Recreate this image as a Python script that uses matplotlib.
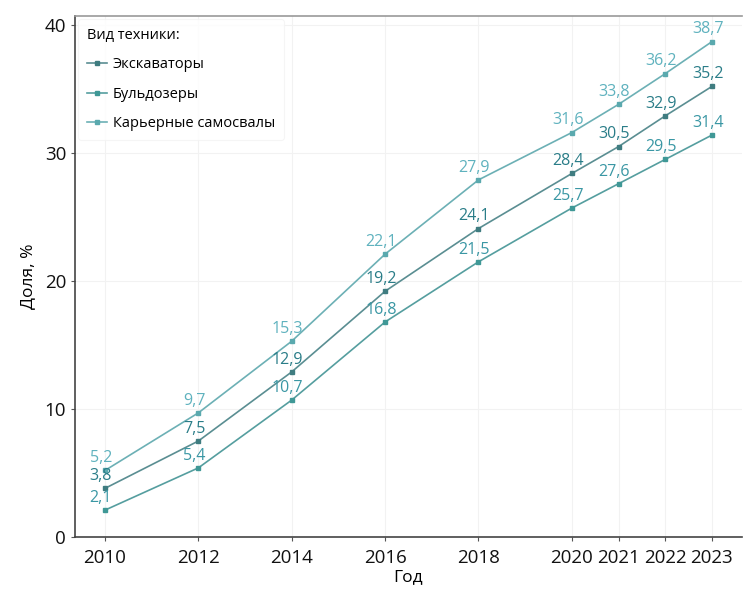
import matplotlib.pyplot as plt
from matplotlib import font_manager

plt.rcParams['font.family'] = ['Open Sans', 'DejaVu Sans']

years = [2010, 2012, 2014, 2016, 2018, 2020, 2021, 2022, 2023]
excavators = [3.8, 7.5, 12.9, 19.2, 24.1, 28.4, 30.5, 32.9, 35.2]
bulldozers = [2.1, 5.4, 10.7, 16.8, 21.5, 25.7, 27.6, 29.5, 31.4]
dump_trucks = [5.2, 9.7, 15.3, 22.1, 27.9, 31.6, 33.8, 36.2, 38.7]

names = ['Экскаваторы', 'Бульдозеры', 'Карьерные самосвалы']
series = [excavators, bulldozers, dump_trucks]
line_colors = ['#5a8e92', '#559e9f', '#6cb0b5']
text_colors = ['#2a7d88', '#3a97a4', '#5fb2be']
marker_colors = ['#3f7c80', '#3f9896', '#5aa9ae']

# narrow face for the legend if it is available
try:
    font_manager.findfont('Liberation Sans Narrow', fallback_to_default=False)
    leg_family, leg_size = ['Liberation Sans Narrow', 'DejaVu Sans'], 12.5
except ValueError:
    leg_family, leg_size = ['Open Sans', 'DejaVu Sans'], 10.5

fig = plt.figure(figsize=(7.44, 5.95), dpi=100)
ax = fig.add_axes([0.101, 0.0975, 0.896, 0.8755])

for vals, name, lc, tc, mc in zip(series, names, line_colors, text_colors, marker_colors):
    ax.plot(years, vals, color=lc, lw=1.2, marker='s', ms=2.6,
            mfc=mc, mec=mc, label=name)
    for x, y in zip(years, vals):
        ax.annotate(f'{y:.1f}'.replace('.', ','), (x, y), xytext=(-3, 3),
                    textcoords='offset points', ha='center', va='bottom',
                    color=tc, fontsize=11.5)

ax.set_xlim(2009.36, 2023.64)
ax.set_ylim(0, 40.7)
ax.set_xticks(years)
ax.set_yticks([0, 10, 20, 30, 40])
ax.tick_params(labelsize=13.5, length=3, color='#555555', labelcolor='#111111')
ax.tick_params(axis='x', pad=6)
ax.grid(True, color='#f2f2f2', lw=0.8)
ax.set_axisbelow(True)

for s in ['left', 'bottom']:
    ax.spines[s].set_color('#444444')
    ax.spines[s].set_linewidth(1.2)
ax.spines['top'].set_color('#999999')
ax.spines['top'].set_linewidth(1.2)
ax.spines['right'].set_visible(False)

ax.set_xlabel('Год', fontsize=12.5, labelpad=1)
ax.set_ylabel('Доля, %', fontsize=12.5, labelpad=6)

leg = ax.legend(loc='upper left', title='Вид техники:', frameon=True,
                handlelength=1.4, handletextpad=0.4, borderpad=0.6,
                borderaxespad=0.2, labelspacing=1.0,
                prop={'family': leg_family, 'size': leg_size})
leg.get_title().set_family(leg_family)
leg.get_title().set_fontsize(leg_size)
leg._legend_box.align = 'left'
leg.get_frame().set_edgecolor('#f3f3f3')
leg.get_frame().set_linewidth(0.8)

fig.savefig('out.png', dpi=100)
